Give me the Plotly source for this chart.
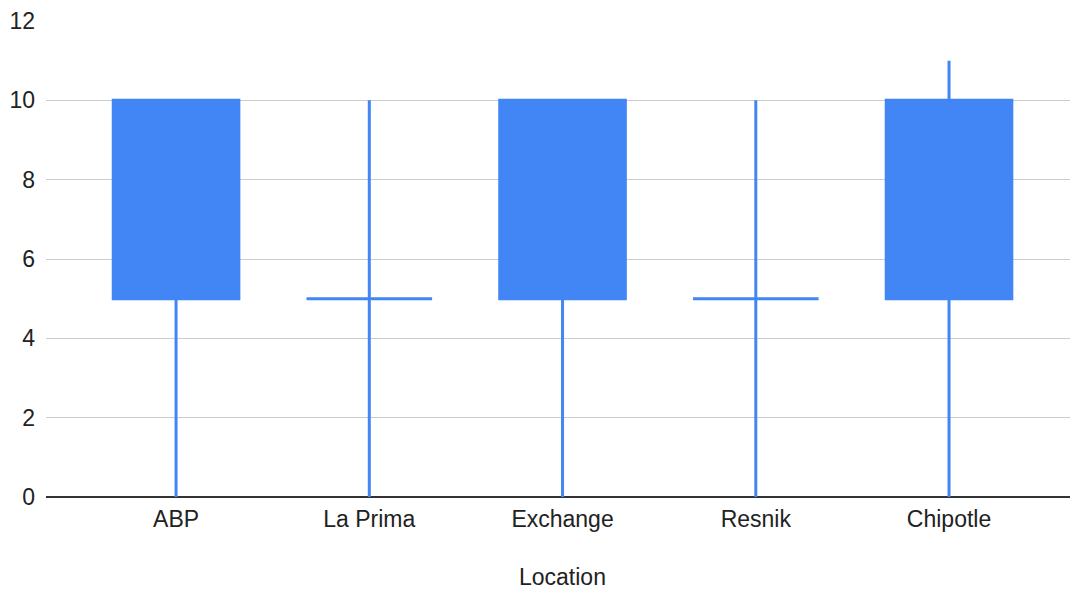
import plotly.graph_objects as go

locations = ["ABP", "La Prima", "Exchange", "Resnik", "Chipotle"]
low_vals = [0, 0, 0, 0, 0]
open_vals = [5, 5, 5, 5, 5]
close_vals = [10, 5, 10, 5, 10]
high_vals = [10, 10, 10, 10, 11]
x_title = "Location"

BLUE = "#4285F4"
FONT = "Liberation Sans, Arial, sans-serif"
FS = 23

fig = go.Figure(
    go.Candlestick(
        x=locations,
        open=open_vals,
        high=high_vals,
        low=low_vals,
        close=close_vals,
        increasing=dict(line=dict(color=BLUE, width=3), fillcolor=BLUE),
        decreasing=dict(line=dict(color=BLUE, width=3), fillcolor=BLUE),
        whiskerwidth=0,
        hoverinfo="skip",
        showlegend=False,
    )
)

fig.update_layout(
    width=1070,
    height=593,
    margin=dict(l=46, r=0, t=21, b=96),
    paper_bgcolor="white",
    plot_bgcolor="white",
    boxgap=0.35,
    boxgroupgap=0,
    font=dict(family=FONT, size=FS, color="#222222"),
    xaxis=dict(
        type="category",
        automargin=False,
        range=[-0.673, 4.626],
        rangeslider=dict(visible=False),
        showgrid=False,
        showline=False,
        ticks="",
        ticklabelstandoff=6,
        tickfont=dict(family=FONT, size=FS, color="#222222"),
    ),
    yaxis=dict(
        automargin=False,
        range=[0, 12],
        dtick=2,
        showgrid=True,
        gridcolor="#cccccc",
        gridwidth=1,
        zeroline=True,
        zerolinecolor="#333333",
        zerolinewidth=2,
        ticks="",
        ticklabelstandoff=10,
        tickfont=dict(family=FONT, size=FS, color="#222222"),
    ),
    annotations=[
        dict(
            text=x_title,
            x=locations[len(locations) // 2],
            xref="x",
            y=0,
            yref="paper",
            yshift=-80,
            showarrow=False,
            xanchor="center",
            yanchor="middle",
            font=dict(family=FONT, size=FS, color="#222222"),
        )
    ],
)

fig.write_html(
    "out.html",
    config={"responsive": False, "displayModeBar": False},
    post_script="document.body.style.margin='0px';document.body.style.overflow='hidden';",
)
